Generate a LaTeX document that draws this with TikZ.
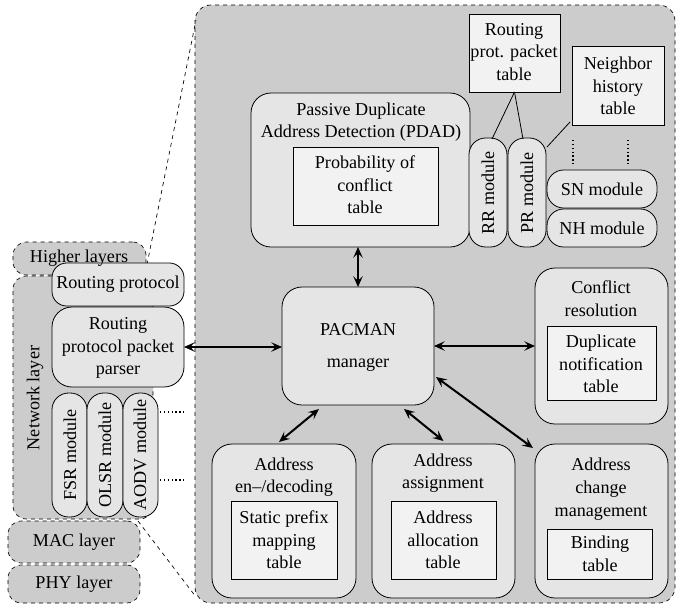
\documentclass[tikz,border=0pt]{standalone}
\usepackage{fontspec}
\setmainfont{Liberation Serif}
\usetikzlibrary{arrows.meta,calc}

\definecolor{layerfill}{gray}{0.80}
\definecolor{modfill}{gray}{0.90}
\definecolor{tabfill}{gray}{0.95}

% box from its corners (x1,y1)-(x2,y2), in picture units
\newcommand\placebox[6]{%
  \node[#6, minimum width={(#4-#2)*0.75pt}, minimum height={(#5-#3)*0.75pt}]
    (#1) at ({(#2+#4)/2},{(#3+#5)/2}) {};}

\tikzset{
  layer/.style={draw, dashed, fill=layerfill, rounded corners=10pt,
    inner sep=0pt, outer sep=0pt, line width=0.5pt},
  panelbox/.style={layer, rounded corners=12pt},
  module/.style={draw, fill=modfill, rounded corners=15pt,
    inner sep=0pt, outer sep=0pt, line width=0.6pt},
  smallmod/.style={module, rounded corners=11pt},
  pill/.style={module, rounded corners=12.5pt},
  tabbox/.style={draw, fill=tabfill, inner sep=0pt, outer sep=0pt, line width=0.6pt},
  txt/.style={font=\fontsize{13.6}{17}\selectfont, align=center, inner sep=0pt},
  vtxt/.style={txt, rotate=90},
  tip/.style={Stealth[length=8pt,width=7pt,inset=3.2pt]},
  link/.style={line width=1.5pt, {Stealth[length=8pt,width=7pt,inset=3.2pt]}-{Stealth[length=8pt,width=7pt,inset=3.2pt]}},
  thinlink/.style={line width=0.6pt},
  zoomline/.style={dashed, line width=0.5pt},
  dots/.style={dotted, line width=0.9pt}
}

\begin{document}
\begin{tikzpicture}[x=0.75pt,y=-0.75pt]
\useasboundingbox (0,0) rectangle (682,607);

% PACMAN panel
\placebox{panel}{195}{5}{675}{603}{panelbox}

% protocol stack on the left
\placebox{higher}{13}{242}{146}{275}{layer}
\placebox{netlayer}{13}{276}{153}{519}{layer}
\placebox{mac}{8}{521}{140}{563}{layer}
\placebox{phy}{8}{565}{140}{603}{layer}

% zoom lines from the network layer to the panel
\coordinate (zt) at ($(higher.east)+(1,6)$);
\coordinate (zb) at ($(mac.north east)+(-2,0)$);
\draw[zoomline] (zt) -- ($(panel.north west)+(1,15)$);
\draw[zoomline] (zb) -- ($(panel.south west)+(1,-6)$);

\placebox{rp}{52}{263}{184}{306}{smallmod}
\placebox{parser}{52}{307}{184}{387}{module}
\placebox{fsr}{52}{393}{87}{517}{pill}
\placebox{olsr}{87}{393}{123}{517}{pill}
\placebox{aodv}{123}{393}{158}{517}{pill}

\node[txt] (thigher) at (79,258) {Higher layers};
\node[vtxt] (tnet) at (35,398) {Network layer};
\node[txt] (tmac) at (74,542) {MAC layer};
\node[txt] (tphy) at (74,584) {PHY layer};
\node[txt] (trp) at (118,284) {Routing protocol};
\node[txt] (tparser) at (118,348) {Routing\\protocol packet\\parser};
\node[vtxt] (tfsr) at (70,455) {FSR module};
\node[vtxt] (tolsr) at (105,455) {OLSR module};
\node[vtxt] (taodv) at (140,455) {AODV module};

\draw[dots] ($(aodv.east)+(2,-43)$) -- ($(aodv.east)+(29,-43)$);
\draw[dots] ($(aodv.east)+(2,25)$) -- ($(aodv.east)+(29,25)$);

% passive duplicate address detection
\placebox{pdad}{251}{93}{470}{247}{module}
\placebox{pdadtab}{293}{147}{438}{225}{tabbox}
\node[txt] (tpdad) at (361,122) {Passive Duplicate\\Address Detection (PDAD)};
\node[txt] (tpdadtab) at (365,185) {Probability of\\conflict\\table};

\placebox{rr}{469}{138}{507}{247}{pill}
\placebox{pr}{508}{138}{546}{247}{pill}
\placebox{sn}{547}{170}{657}{208}{pill}
\placebox{nh}{547}{209}{657}{247}{pill}
\node[vtxt] (trr) at (488,193) {RR module};
\node[vtxt] (tpr) at (527,193) {PR module};
\node[txt] (tsn) at (602,189) {SN module};
\node[txt] (tnh) at (602,228) {NH module};

\placebox{rtab}{469}{14}{560}{92}{tabbox}
\placebox{ntab}{572}{46}{664}{125}{tabbox}
\node[txt] (trtab) at (514,52) {Routing\\prot. packet\\table};
\node[txt] (tntab) at (618,86) {Neighbor\\history\\table};

\draw[thinlink] (rtab.south) -- ($(rr.north)+(4,1)$);
\draw[thinlink] (rtab.south) -- ($(pr.north)+(-4,1)$);
\draw[thinlink] ($(ntab.south west)+(-2,-3)$) -- ($(pr.north east)+(1,9)$);
\draw[dots] ($(sn.north west)+(26,-30)$) -- ($(sn.north west)+(26,-5)$);
\draw[dots] ($(sn.north east)+(-29,-30)$) -- ($(sn.north east)+(-29,-5)$);

% manager and its partners
\placebox{pacman}{282}{287}{434}{405}{module}
\node[txt] (tpacman) at (358,347) {PACMAN\\[7pt]manager};

\placebox{conflict}{535}{268}{668}{424}{module}
\placebox{conflicttab}{547}{326}{656}{400}{tabbox}
\node[txt] (tconflict) at (601,299) {Conflict\\resolution};
\node[txt] (tconflicttab) at (601,364) {Duplicate\\notification\\table};

\placebox{addrenc}{212}{444}{356}{598}{module}
\placebox{addrenctab}{231}{501}{337}{579}{tabbox}
\node[txt] (taddrenc) at (284,477) {Address\\en--/decoding};
\node[txt] (taddrenctab) at (284,540) {Static prefix\\mapping\\table};

\placebox{addrass}{372}{444}{515}{598}{module}
\placebox{addrasstab}{391}{501}{496}{579}{tabbox}
\node[txt] (taddrass) at (443,473) {Address\\assignment};
\node[txt] (taddrasstab) at (443,540) {Address\\allocation\\table};

\placebox{addrchg}{535}{444}{668}{598}{module}
\placebox{addrchgtab}{547}{529}{652}{579}{tabbox}
\node[txt] (taddrchg) at (601,489) {Address\\change\\management};
\node[txt] (taddrchgtab) at (600,554) {Binding\\table};

% data flow
\draw[link] (pdad.south -| pacman.north) -- (pacman.north);
\draw[link] (parser.east) -- (parser.east -| pacman.west);
\draw[link] (pacman.east) -- (pacman.east -| conflict.west);
\draw[link] ($(pacman.south)+(-39,4)$) -- ($(addrenc.north)+(-5,-2)$);
\draw[link] ($(pacman.south)+(46,4)$) -- ($(addrass.north)+(0,-3)$);
\draw[link] ($(pacman.east)+(2,31)$) -- ($(addrchg.north west)+(-2,4)$);
\end{tikzpicture}
\end{document}
